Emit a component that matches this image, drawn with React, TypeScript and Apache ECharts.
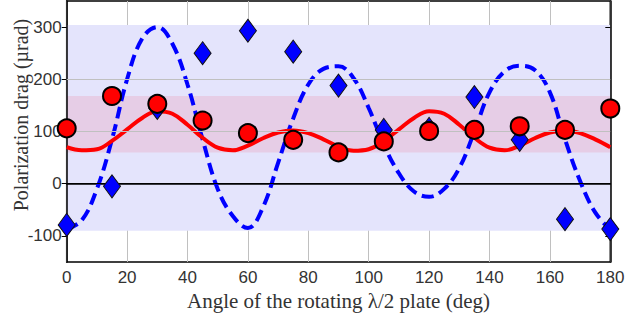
import React, { useEffect, useRef } from "react";
import * as echarts from "echarts";

const pointAngles = [0, 15, 30, 45, 60, 75, 90, 105, 120, 135, 150, 165, 180];
const diamondValues = [-79, -5, 145, 250, 293, 253, 188, 103, 105, 166, 84, -68, -87];
const circleValues = [106, 168, 153, 121, 97, 84, 60, 81, 101, 103, 110, 103, 144];

const curveAngles = [
  0, 5, 10, 15, 20, 25, 30, 35, 40, 45, 50, 55, 60, 65, 70, 75, 80, 85, 90,
  95, 100, 105, 110, 115, 120, 125, 130, 135, 140, 145, 150, 155, 160, 165, 170, 175, 180,
];
const redCurve = [
  70, 64, 66, 82, 104, 126, 139, 134, 113, 88, 69, 64, 73, 87, 98, 102, 97, 85, 71,
  63, 66, 82, 104, 126, 139, 134, 113, 88, 69, 64, 73, 87, 98, 102, 97, 85, 70,
];
const blueCurve = [
  -87, -70, -10, 85, 200, 278, 300, 268, 190, 85, -10, -62, -85, -45, 40, 125, 190, 220, 225,
  202, 145, 75, 20, -15, -25, -10, 30, 100, 175, 215, 226, 218, 175, 85, 5, -55, -88,
];

const yTicks = [-100, 0, 100, 200, 300];
const gridLineValues = [100, 200];
const blueBand = [-90, 304];
const pinkBand = [60, 168];

const xTitle = "Angle of the rotating \u03bb/2 plate (deg)";
const yTitle = "Polarization drag (\u00b5rad)";

export default function App() {
  const ref = useRef<HTMLDivElement>(null);
  useEffect(() => {
    if (!ref.current) return;
    const chart = echarts.init(ref.current, undefined, { renderer: "svg" });
    const pair = (xs: number[], ys: number[]) => xs.map((x, i) => [x, ys[i]]);
    chart.setOption({
      animation: false,
      grid: {
        left: 66.7,
        right: 25.7,
        top: 1,
        bottom: 61,
        containLabel: false,
        outerBoundsMode: "none",
        show: true,
        borderColor: "#000",
        borderWidth: 1.5,
        backgroundColor: "transparent",
      },
      graphic: [
        {
          type: "text",
          x: 21,
          y: 115,
          rotation: Math.PI / 2,
          silent: true,
          style: {
            text: yTitle,
            fontSize: 20,
            fill: "#333",
            fontFamily: "Liberation Serif, Times New Roman, serif",
            align: "center",
            verticalAlign: "middle",
          },
        },
      ],
      xAxis: {
        type: "value",
        min: 0,
        max: 180,
        interval: 20,
        z: 1,
        axisLine: { show: true, lineStyle: { color: "#000", width: 1.5 } },
        axisTick: { show: false },
        axisLabel: {
          fontSize: 17,
          color: "#333",
          fontFamily: "Liberation Sans, Arial, sans-serif",
          margin: 7,
        },
        splitLine: { show: true, lineStyle: { color: "#c0c0c0", width: 1 } },
        name: xTitle,
        nameLocation: "middle",
        nameGap: 28,
        nameTextStyle: {
          fontSize: 21,
          color: "#333",
          fontFamily: "Liberation Serif, Times New Roman, serif",
        },
      },
      yAxis: [
        {
          type: "value",
          min: -150,
          max: 350,
          interval: 50,
          position: "left",
          z: 1,
          axisLine: { show: true, lineStyle: { color: "#000", width: 1.5 } },
          axisTick: {
            show: true,
            customValues: yTicks,
            length: 5,
            lineStyle: { color: "#000" },
          },
          axisLabel: {
            customValues: yTicks,
            fontSize: 17,
            color: "#333",
            fontFamily: "Liberation Sans, Arial, sans-serif",
            margin: 5,
          },
          splitLine: { show: false },
        },
        {
          type: "value",
          min: -150,
          max: 350,
          interval: 50,
          position: "right",
          z: 1,
          axisLine: { show: true, lineStyle: { color: "#000", width: 1.5 } },
          axisTick: {
            show: true,
            inside: true,
            customValues: yTicks,
            length: 5,
            lineStyle: { color: "#000" },
          },
          axisLabel: { show: false },
          splitLine: { show: false },
        },
      ],
      series: [
        {
          type: "line",
          data: [],
          z: 0,
          silent: true,
          markArea: {
            silent: true,
            data: [
              [
                { yAxis: blueBand[0], xAxis: 0, itemStyle: { color: "#e4e4fc" } },
                { yAxis: blueBand[1], xAxis: 180 },
              ],
              [
                { yAxis: pinkBand[0], xAxis: 0, itemStyle: { color: "#e6cde6" } },
                { yAxis: pinkBand[1], xAxis: 180 },
              ],
            ],
          },
        },
        {
          type: "line",
          data: [],
          z: 1,
          silent: true,
          markLine: {
            silent: true,
            symbol: "none",
            label: { show: false },
            data: [
              ...gridLineValues.map((v) => ({
                yAxis: v,
                lineStyle: { color: "#c0c0c0", width: 1, type: "solid" },
              })),
              { yAxis: 0, lineStyle: { color: "#000", width: 1.2, type: "solid" } },
            ],
          },
        },
        {
          type: "line",
          data: pair(curveAngles, blueCurve),
          smooth: 0.4,
          showSymbol: false,
          z: 3,
          lineStyle: { color: "#0000ff", width: 4, type: [12, 6] },
        },
        {
          type: "line",
          data: pair(curveAngles, redCurve),
          smooth: 0.4,
          showSymbol: false,
          z: 4,
          lineStyle: { color: "#ff0000", width: 4 },
        },
        {
          type: "scatter",
          data: pair(pointAngles, diamondValues),
          symbol: "diamond",
          symbolSize: [17, 23],
          z: 5,
          itemStyle: { color: "#0000ff", borderColor: "#111", borderWidth: 1, opacity: 1 },
        },
        {
          type: "scatter",
          data: pair(pointAngles, circleValues),
          symbol: "circle",
          symbolSize: 18,
          z: 6,
          itemStyle: { color: "#ff0000", borderColor: "#000", borderWidth: 2, opacity: 1 },
        },
      ],
    });
    return () => chart.dispose();
  }, []);
  return <div ref={ref} style={{ width: 636, height: 323, position: "absolute", left: 0, top: 0 }} />;
}
